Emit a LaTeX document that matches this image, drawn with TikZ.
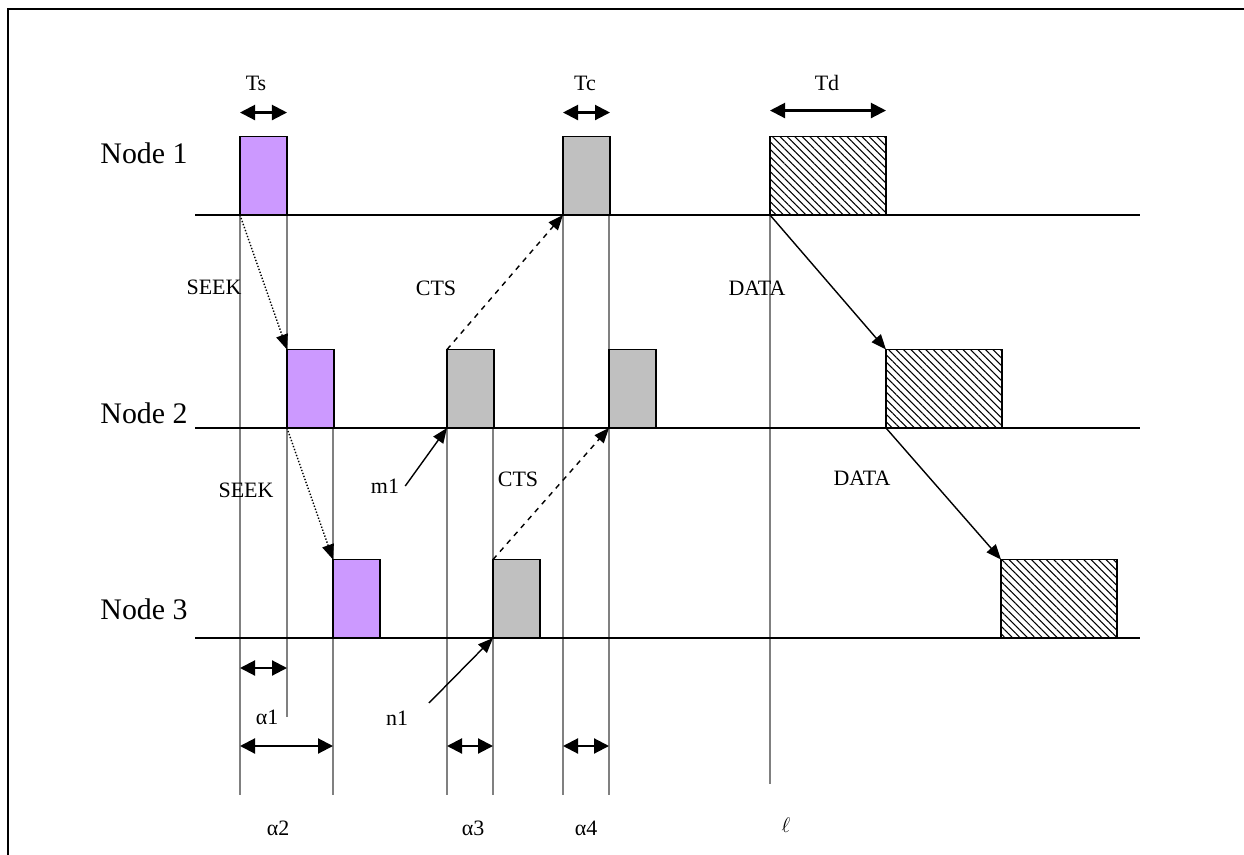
\documentclass[tikz,border=0pt]{standalone}
\usepackage{fontspec}
\setmainfont{Liberation Serif}
\usetikzlibrary{arrows.meta,patterns.meta,positioning}
\definecolor{seekpurple}{HTML}{CC99FF}
\definecolor{ctsgrey}{HTML}{C0C0C0}
\begin{document}
\begin{tikzpicture}[x=0.02cm,y=-0.02cm,
   every node/.style={font=\fontsize{12.5}{14}\selectfont},
   slot/.style={draw,line width=0.8pt,minimum width=0.94cm,minimum height=1.57cm,
      inner sep=0pt,outer sep=0pt,anchor=south west},
   seekbox/.style={slot,fill=seekpurple},
   ctsbox/.style={slot,fill=ctsgrey},
   databox/.style={slot,minimum width=2.32cm,
      pattern={Lines[angle=-45,distance=3pt,line width=0.6pt]}},
   nodelabel/.style={font=\fontsize{17}{20}\selectfont},
   timeline/.style={line width=1.1pt},
   guide/.style={line width=0.7pt,draw=gray},
   msg/.style={line width=0.8pt,-{Triangle[length=0.3cm,width=0.24cm]}},
   span/.style={line width=1.2pt,
      {Triangle[length=0.3cm,width=0.3cm]}-{Triangle[length=0.3cm,width=0.3cm]}}]
\useasboundingbox (0,0) rectangle (1244,855);
\draw[line width=1.1pt] (8,855) -- (8,9) -- (1244,9);
% guides
\foreach \x/\a/\b in {240/215/795,287/215/717,333/428/795,447/428/795,
   493/428/795,563/215/795,609/215/795,770/215/784}
   \draw[guide] (\x,\a) -- (\x,\b);
% time lines
\foreach \y in {215,428,638}
   \draw[timeline] (195,\y) -- (1140,\y);
\node[nodelabel] (lab1) at (144,153) {Node 1};
\node[nodelabel] (lab2) at (144,413) {Node 2};
\node[nodelabel] (lab3) at (144,609) {Node 3};
% frames
\node[seekbox] (seek1) at (240,215) {};
\node[seekbox] (seek2) at (287,428) {};
\node[seekbox] (seek3) at (333,638) {};
\node[ctsbox] (cts2) at (447,428) {};
\node[ctsbox] (cts3) at (493,638) {};
\node[ctsbox] (cts1) at (563,215) {};
\node[ctsbox] (cts2b) at (609,428) {};
\node[databox] (data1) at (770,215) {};
\node[databox] (data2) at (886,428) {};
\node[databox] (data3) at (1001,638) {};
% messages
\draw[msg,densely dotted] (seek1.south west) -- (seek2.north west);
\draw[msg,densely dotted] (seek2.south west) -- (seek3.north west);
\draw[msg,dashed] (cts2.north west) -- (cts1.south west);
\draw[msg,dashed] (cts3.north west) -- (cts2b.south west);
\draw[msg] (data1.south west) -- (data2.north west);
\draw[msg] (data2.south west) -- (data3.north west);
\node (seekA) at (214,287) {SEEK};
\node (seekB) at (246,490) {SEEK};
\node (ctsA) at (436,288) {CTS};
\node (ctsB) at (518,479) {CTS};
\node (dataA) at (757,288) {DATA};
\node (dataB) at (862,478) {DATA};
\node (m1) at (385,486) {m1};
\node (n1) at (397,718) {n1};
\draw[msg] (m1.east) -- (cts2.south west);
\draw[msg,shorten <=12pt] (n1.east) -- (cts3.south west);
% durations
\draw[span] (seek1.north west) ++(0,-24) coordinate (ts0) -- (seek1.north east |- ts0);
\draw[span] (cts1.north west) ++(0,-24) coordinate (tc0) -- (cts1.north east |- tc0);
\draw[span] (data1.north west) ++(0,-26) coordinate (td0) -- (data1.north east |- td0);
\node (ts) at (256,83) {Ts};
\node (tc) at (585,83) {Tc};
\node (td) at (827,83) {Td};
\draw[span] (240,668) -- (287,668);
\draw[span] (240,746) -- (333,746);
\draw[span] (447,746) -- (493,746);
\draw[span] (563,746) -- (609,746);
\node (a1) at (267,717) {α1};
\node (a2) at (278,828) {α2};
\node (a3) at (473,828) {α3};
\node (a4) at (586,828) {α4};
\node (ell) at (786,825) {$\ell$};
\end{tikzpicture}
\end{document}
